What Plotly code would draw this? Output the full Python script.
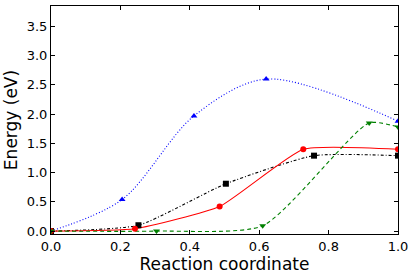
import plotly.graph_objects as go

# Data
blue_x = [0.0, 0.205, 0.412, 0.62, 1.0]
blue_y = [0.0, 0.54, 1.97, 2.60, 1.88]

red_x = [0.0, 0.242, 0.486, 0.727, 1.0]
red_y = [0.0, 0.04, 0.42, 1.40, 1.40]

black_x = [0.0, 0.252, 0.504, 0.758, 1.0]
black_y = [0.0, 0.10, 0.81, 1.29, 1.29]

green_x = [0.0, 0.304, 0.61, 0.917, 1.0]
green_y = [0.0, 0.0, 0.09, 1.85, 1.78]

x_ticks = [0.0, 0.2, 0.4, 0.6, 0.8, 1.0]
y_ticks = [0.0, 0.5, 1.0, 1.5, 2.0, 2.5, 3.0, 3.5]

series = [
    (blue_x, blue_y, "blue", "1px,2px", "triangle-up", 0.9),
    (black_x, black_y, "black", "3px,2px,1px,2px", "square", 0.55),
    (red_x, red_y, "red", "solid", "circle", 0.45),
    (green_x, green_y, "green", "4px,3px", "triangle-down", 0.6),
]

fig = go.Figure()
for xs, ys, col, dash, sym, smooth in series:
    fig.add_trace(go.Scatter(
        x=xs, y=ys, mode="lines",
        line=dict(color=col, dash=dash, width=1.1, shape="spline", smoothing=smooth),
        showlegend=False, hoverinfo="skip",
    ))
for xs, ys, col, dash, sym, smooth in series:
    fig.add_trace(go.Scatter(
        x=xs, y=ys, mode="markers",
        marker=dict(color=col, symbol=sym, size=6, line=dict(width=0)),
        showlegend=False, cliponaxis=True,
    ))

axis_common = dict(
    showgrid=False, zeroline=False, showline=True, linecolor="black", linewidth=1,
    mirror="ticks", ticks="inside", ticklen=4, tickcolor="black", automargin=False,
    tickfont=dict(family="DejaVu Sans", size=13, color="black"),
)
fig.update_xaxes(range=[0, 1], tickvals=x_ticks, tickformat=".1f",
                 title=dict(text="Reaction coordinate", font=dict(family="DejaVu Sans", size=17, color="black"), standoff=0),
                 **axis_common)
fig.update_yaxes(range=[-0.05, 3.85], tickvals=y_ticks, tickformat=".1f",
                 title=dict(text="Energy (eV)", font=dict(family="DejaVu Sans", size=17, color="black"), standoff=4),
                 **axis_common)
fig.update_layout(
    width=415, height=277,
    margin=dict(l=51, r=17, t=6, b=43),
    plot_bgcolor="white", paper_bgcolor="white",
)
fig.write_html("out.html", config={"displayModeBar": False},
               post_script="document.body.style.margin='0';document.body.style.overflow='hidden';")
